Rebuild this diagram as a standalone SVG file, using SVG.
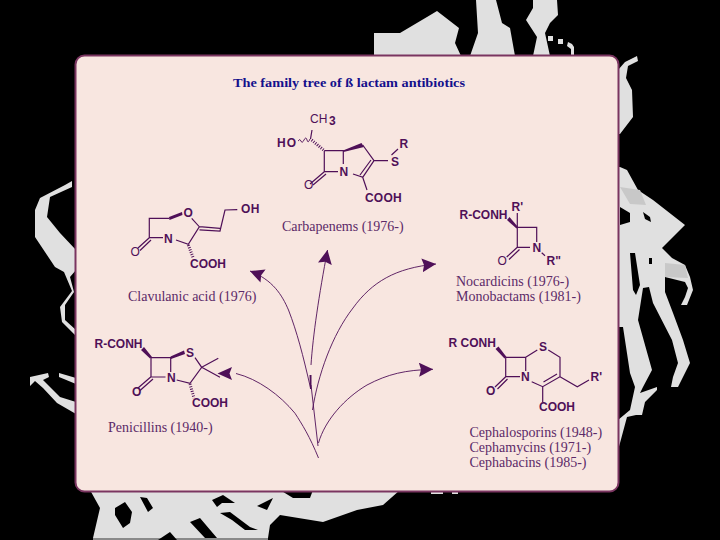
<svg xmlns="http://www.w3.org/2000/svg" width="720" height="540" viewBox="0 0 720 540">
<style>
.t{font-family:"Liberation Serif",serif;font-size:14px;fill:#5c2a68}
.a{font-family:"Liberation Sans",sans-serif;font-size:12px;font-weight:bold;fill:#4f1058}
.b{fill:none;stroke:#4f1058;stroke-width:1.2}
.w{fill:#4f1058;stroke:none}
.h{fill:none;stroke:#4f1058;stroke-width:3;stroke-dasharray:1 1.4}
.c{fill:none;stroke:#4f1058;stroke-width:.9}
.g{fill:#e0e0e0}
.d{fill:#c8c8c8}
.k{fill:#000}
</style>
<defs>
<marker id="head" markerUnits="userSpaceOnUse" markerWidth="18" markerHeight="16" refX="14" refY="7" orient="auto"><path d="M0 0L14 7L0 14L2 7Z" fill="#4f1058"/></marker>
</defs>
<rect width="720" height="540" fill="#000"/>
<g id="background">
<path class="g" d="M374 33L400 33L427 17L437 11L459 28L455 43L461 56L374 56Z"/>
<path class="g" d="M476 0L496 0L502 23L510 28L515 56L470 56L478 33Z"/>
<path class="g" d="M533 0L557 0L558 15L550 23L545 33L550 56L533 56L537 37L526 20L533 8Z"/>
<path class="g" d="M548 36h5v5h-5zM558 39h5v5h-5zM568 42l4 2l2 3v8h-3v-6l-4-3z"/>
<path class="g" d="M618 70L625 62L637 56L638 61L628 66L626 78L632 90L633 117L620 134L618 134Z"/>
<path class="g" d="M618 167L620 167L627 170L638 190L653 200L685 225L662 248L672 258L685 265L690 277L693 290L687 305L681 305L685 297L688 288L685 282L665 277L665 292L673 313L683 340L690 363L678 387L671 387L673 377L678 363L672 340L653 303L649 287L643 288L638 320L652 370L643 387L640 393L657 387L657 390L645 402L642 415L636 415L627 417L620 443L618 450L618 420L630 410L635 387L630 373L623 327L618 327Z"/>
<path class="d" d="M620 187L640 190L646 205L630 204ZM665 263L685 265L688 278L665 277Z"/>
<path class="k" d="M620 207L630 213L630 222L620 225ZM643 212L650 217L651 222L645 219ZM630 253L635 253L640 285L636 295L633 290ZM649 258h3v6h-3Z"/>
<path class="g" d="M40 198L65 185L72 181L72 187L50 197L47 217L60 233L76 250L76 270L70 277L74 292L65 305L65 320L76 330L76 336L62 322L60 307L72 291L64 272L55 267L35 237L35 210Z"/>
<path class="g" d="M30 377L48 373L49 377L43 380L60 397L76 402L76 414L57 403L43 388L35 381L30 386Z"/>
<path class="g" d="M59 373L76 378L76 384L59 377Z"/>
<path class="g" d="M90 490L400 490L383 505L357 510L323 522L280 515L270 525L268 538L93 538L100 508Z"/>
<path d="M93 538H268V540H93Z" fill="#8a8a8a"/>
<path class="k" d="M115 508L125 502L132 512L130 523L123 528L115 515ZM140 497L147 498L153 508L148 512ZM212 500L223 495L235 503L222 503L217 507ZM220 513L230 512L250 527L258 530L245 530L232 520ZM257 506L273 498L267 510L262 508ZM280 490L313 490L310 498L293 498ZM190 522L200 518L217 538L205 538ZM158 540L170 532L177 540Z"/>
<path class="g" d="M431 490h12v4h-12zM452 490h6v4h-6z"/>
</g>
<rect id="panel" x="75.500" y="55.500" width="543" height="436" rx="9" fill="#f8e6e0" stroke="#7a3560" stroke-width="2"/>
<text id="title" x="233" y="87" font-family="'Liberation Serif',serif" font-size="13" font-weight="bold" fill="#14108c" textLength="232" lengthAdjust="spacingAndGlyphs">The family tree of ß lactam antibiotics</text>
<g id="carbapenems">
<path class="b" d="M324.300 150.700H343.300V164M338 171.700H324.300V150.700M324.300 171.700L310 184M326 174L313 185M362.700 145L374 160.700H388M374 160.700L362.700 177.300M371 160L360 175M353 174L362.700 177.300L367 190M391.500 155L398 149M312 130L310.500 139"/>
<path class="w" d="M343 150.500L361.500 143L364 147L343.500 152Z"/>
<path class="c" d="M298 141q2-3 3 0t3-1t3 0t3-1"/>
<path class="h" d="M311.700 140L324.300 150.700"/>
<text class="a" x="310" y="123" style="font-weight:normal">CH</text>
<text class="a" x="329" y="125" font-size="10">3</text>
<text class="a" x="277" y="147" letter-spacing="1">HO</text>
<text class="a" x="339.500" y="175.500">N</text>
<text class="a" x="304" y="189" style="font-weight:normal">O</text>
<text class="a" x="391" y="166">S</text>
<text class="a" x="399.500" y="148">R</text>
<text class="a" x="365" y="201.500" style="letter-spacing:.2px">COOH</text>
<text class="t" x="282" y="231">Carbapenems (1976-)</text>
</g>
<g id="clavulanic">
<path class="b" d="M169.300 218.300H149.300V237.700H163M149.300 237.700L138 248M151 240L140 250.500M191.700 218.300L199.300 226.700L188.300 244.300L176 240M199.300 226.700L220 228.300M199.500 229.800L220 231L225 210L237.300 209.700"/>
<path class="w" d="M169 217L182 212L182.500 215L169.500 220Z"/>
<path class="h" d="M188.300 245L193.300 258"/>
<text class="a" x="183.500" y="217">O</text>
<text class="a" x="164" y="242.500">N</text>
<text class="a" x="130.500" y="256" style="font-weight:normal">O</text>
<text class="a" x="241" y="213" letter-spacing=".5">OH</text>
<text class="a" x="190" y="268">COOH</text>
<text class="t" x="128" y="301">Clavulanic acid (1976)</text>
</g>
<g id="penicillins">
<path class="b" d="M151 357.700H170.700V372M165.500 377H151V357.700M151 376.700L138 388M153 379L140 390.500M195 357.700L201.700 367.300L190 383.300L176.700 380M201.700 367.300L218.300 358.300M201.700 367.300L220 377.300"/>
<path class="w" d="M141 350L144 347L152 357L150 358.500ZM170.500 356.500L184 350.500L185 354L171 359Z"/>
<path class="h" d="M190 384L194 398"/>
<text class="a" x="94.500" y="348">R-CONH</text>
<text class="a" x="186" y="357">S</text>
<text class="a" x="167" y="382">N</text>
<text class="a" x="132" y="396">O</text>
<text class="a" x="192" y="407">COOH</text>
<text class="t" x="108" y="432">Penicillins (1940-)</text>
</g>
<g id="monobactams">
<path class="b" d="M517.300 213V247.300H530M517.300 227.300H536.700V242M517.300 247.300L506.700 257M519.500 249.500L509 259.500M541.700 252.700L545 255.700"/>
<path class="w" d="M507 220L509.500 217L518 227L516.500 228.500Z"/>
<text class="a" x="459.500" y="218.500">R-CONH</text>
<text class="a" x="511.500" y="211">R'</text>
<text class="a" x="532.500" y="251.500">N</text>
<text class="a" x="497.500" y="265" style="font-weight:normal">O</text>
<text class="a" x="546.500" y="265">R"</text>
<text class="t" x="456" y="286">Nocardicins (1976-)</text>
<text class="t" x="456" y="301">Monobactams (1981-)</text>
</g>
<g id="cephalosporins">
<path class="b" d="M505.700 357.300H525.700V371M520 376.700H505.700V357.300M505.700 376.700L495 387M507.500 379L497.500 389M525.700 357.300L537.300 350M548.300 350L560 357.300V376.700L542.700 386.700L531.700 381.700M557 374L543.500 382M560 376.700L577.300 386.700L589 380M542.700 386.700V402.300"/>
<path class="w" d="M495.500 349L498.500 346.500L506.500 357L504.500 358.500Z"/>
<text class="a" x="448.500" y="347" xml:space="preserve">R CONH</text>
<text class="a" x="539" y="351">S</text>
<text class="a" x="521" y="381">N</text>
<text class="a" x="486" y="395">O</text>
<text class="a" x="590.500" y="381">R'</text>
<text class="a" x="539" y="411">COOH</text>
<text class="t" x="469.500" y="437">Cephalosporins (1948-)</text>
<text class="t" x="469.500" y="452">Cephamycins (1971-)</text>
<text class="t" x="469.500" y="467">Cephabacins (1985-)</text>
</g>
<g id="connectors">
<path class="c" d="M310.500 388C303 355 297 332 288.500 310C282 295 273 280 250 271" marker-end="url(#head)"/>
<path class="c" d="M311 365C313 335 319 295 327.500 250" marker-end="url(#head)"/>
<path class="c" d="M312.500 410C318 375 332 335 353 308C372 282 395 268 436 264" marker-end="url(#head)"/>
<path class="c" d="M318.500 443C325 420 345 398 367 385C388 374 405 370 433 369.300" marker-end="url(#head)"/>
<path class="c" d="M318.500 458C310 437 302 424 295 413.300C280 395 258 379 236 373.500"/>
<path class="c" d="M311 385L318 446"/>
<path class="w" d="M217.500 373.500L232 367L229.500 373.500L232 380Z"/>
<path class="w" d="M309.500 375L311.500 375L311.500 389L310 389Z"/>
</g>
</svg>
